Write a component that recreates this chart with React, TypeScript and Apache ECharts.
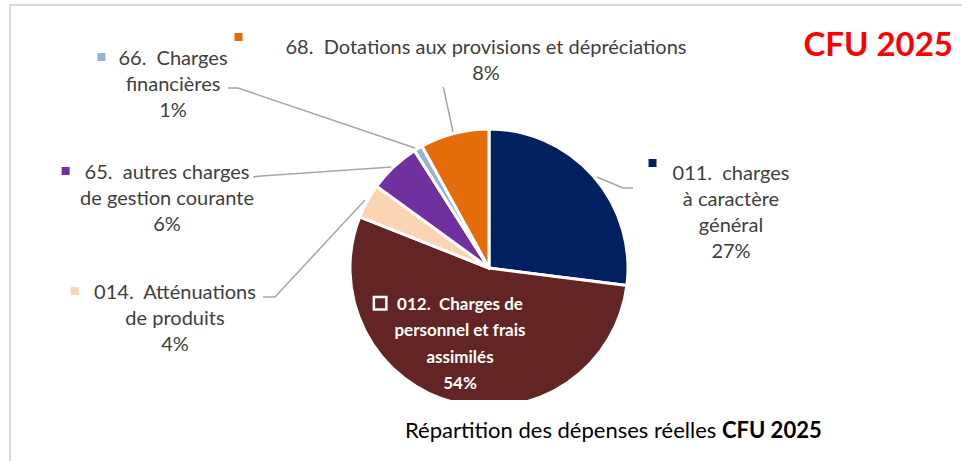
import { useEffect, useRef } from "react";
import * as echarts from "echarts";

const categories = [
  "011.  charges\nà caractère\ngénéral",
  "012.  Charges de\npersonnel et frais\nassimilés",
  "014.  Atténuations\nde produits",
  "65.  autres charges\nde gestion courante",
  "66.  Charges\nfinancières",
  "68.  Dotations aux provisions et dépréciations",
];
const values = [27, 54, 4, 6, 1, 8];
const colors = ["#002060", "#632523", "#FBD4B4", "#7030A0", "#95B3D7", "#E46C0A"];
const cornerTitle = "CFU 2025";
const subtitleRegular = "Répartition des dépenses réelles ";
const subtitleBold = "CFU 2025";

// layout only (label block centres, leader lines, key spacing)
const labelCenters = [[731, 211], [460, 343], [175, 317], [167, 197], [173, 83], [486, 59]];
const leaderPoints: (number[][] | null)[] = [
  [[597, 177], [623, 188], [633, 188]],
  null,
  [[365, 200], [275, 297], [263, 297]],
  [[392, 167], [261, 176], [253, 177]],
  [[415, 148], [238, 88], [228, 88]],
  [[453, 132], [444, 90], [443, 87]],
];
const keyGap = [16, 12, 15, 15, 13, 43];
const keyAlign = ["top", "middle", "middle", "middle", "middle", "top"];

const FONT = "Lato";

export default function App() {
  const ref = useRef<HTMLDivElement>(null);
  useEffect(() => {
    if (!ref.current) return;
    const chart = echarts.init(ref.current, null, { renderer: "svg" });
    const inner = 1;
    const data = values.map((v, i) => {
      const isInner = i === inner;
      const txt = {
        fontFamily: FONT,
        fontSize: isInner ? 17 : 20,
        fontWeight: isInner ? "bold" : "normal",
        lineHeight: isInner ? 26.5 : 26,
        color: isInner ? "#ffffff" : "#404040",
      };
      return {
        value: v,
        name: categories[i],
        itemStyle: { color: colors[i] },
        label: {
          rich: {
            m: isInner
              ? { width: 10, height: 10, borderColor: "#ffffff", borderWidth: 2.5, backgroundColor: colors[i], verticalAlign: "middle" }
              : { width: 8, height: 8, backgroundColor: colors[i], verticalAlign: keyAlign[i] },
            g: { width: keyGap[i] },
            r: { width: keyGap[i] + (isInner ? 10 : 8) },
            t: txt,
          },
        },
        labelLine: { show: !isInner },
      };
    });
    chart.setOption({
      animation: false,
      backgroundColor: "#ffffff",
      graphic: [
        {
          type: "rect",
          z: 0,
          shape: { x: 10, y: 5, width: 1000, height: 520 },
          style: { fill: "none", stroke: "#d9d9d9", lineWidth: 2 },
        },
        {
          type: "rect",
          z: 100,
          shape: { x: 330, y: 400, width: 620, height: 58 },
          style: { fill: "#ffffff" },
        },
        {
          type: "text",
          z: 101,
          x: 953,
          y: 43,
          style: {
            text: cornerTitle,
            fill: "#ff0000",
            font: `bold 33px ${FONT}`,
            align: "right",
            verticalAlign: "middle",
          },
        },
        {
          type: "text",
          z: 101,
          x: 405,
          y: 429,
          style: {
            text: `{a|${subtitleRegular}}{b|${subtitleBold}}`,
            verticalAlign: "middle",
            rich: {
              a: { fontFamily: FONT, fontSize: 22, color: "#002060" },
              b: { fontFamily: FONT, fontSize: 22, fontWeight: "bold", color: "#002060" },
            },
          },
        },
      ],
      series: [
        {
          type: "pie",
          center: [489, 268],
          radius: 139,
          startAngle: 90,
          clockwise: true,
          avoidLabelOverlap: false,
          itemStyle: { borderColor: "#ffffff", borderWidth: 3 },
          label: {
            show: true,
            position: "outside",
            align: "center",
            formatter: (p: any) => {
              const lines = String(p.name).split("\n");
              const out = [`{m|}{g|}{t|${lines[0]}}{r|}`];
              for (let k = 1; k < lines.length; k++) out.push(`{t|${lines[k]}}`);
              out.push(`{t|${Math.round(p.percent)}%}`);
              return out.join("\n");
            },
          },
          labelLine: { lineStyle: { color: "#a6a6a6", width: 1.5 } },
          labelLayout: (params: any) => {
            const i = params.dataIndex;
            const res: any = {
              x: labelCenters[i][0],
              y: labelCenters[i][1],
              align: "center",
              verticalAlign: "middle",
            };
            if (leaderPoints[i]) res.labelLinePoints = leaderPoints[i];
            return res;
          },
          data,
        },
      ],
    });
    return () => chart.dispose();
  }, []);
  return (
    <div
      ref={ref}
      style={{ position: "fixed", left: 0, top: 0, width: 962, height: 461 }}
    />
  );
}
